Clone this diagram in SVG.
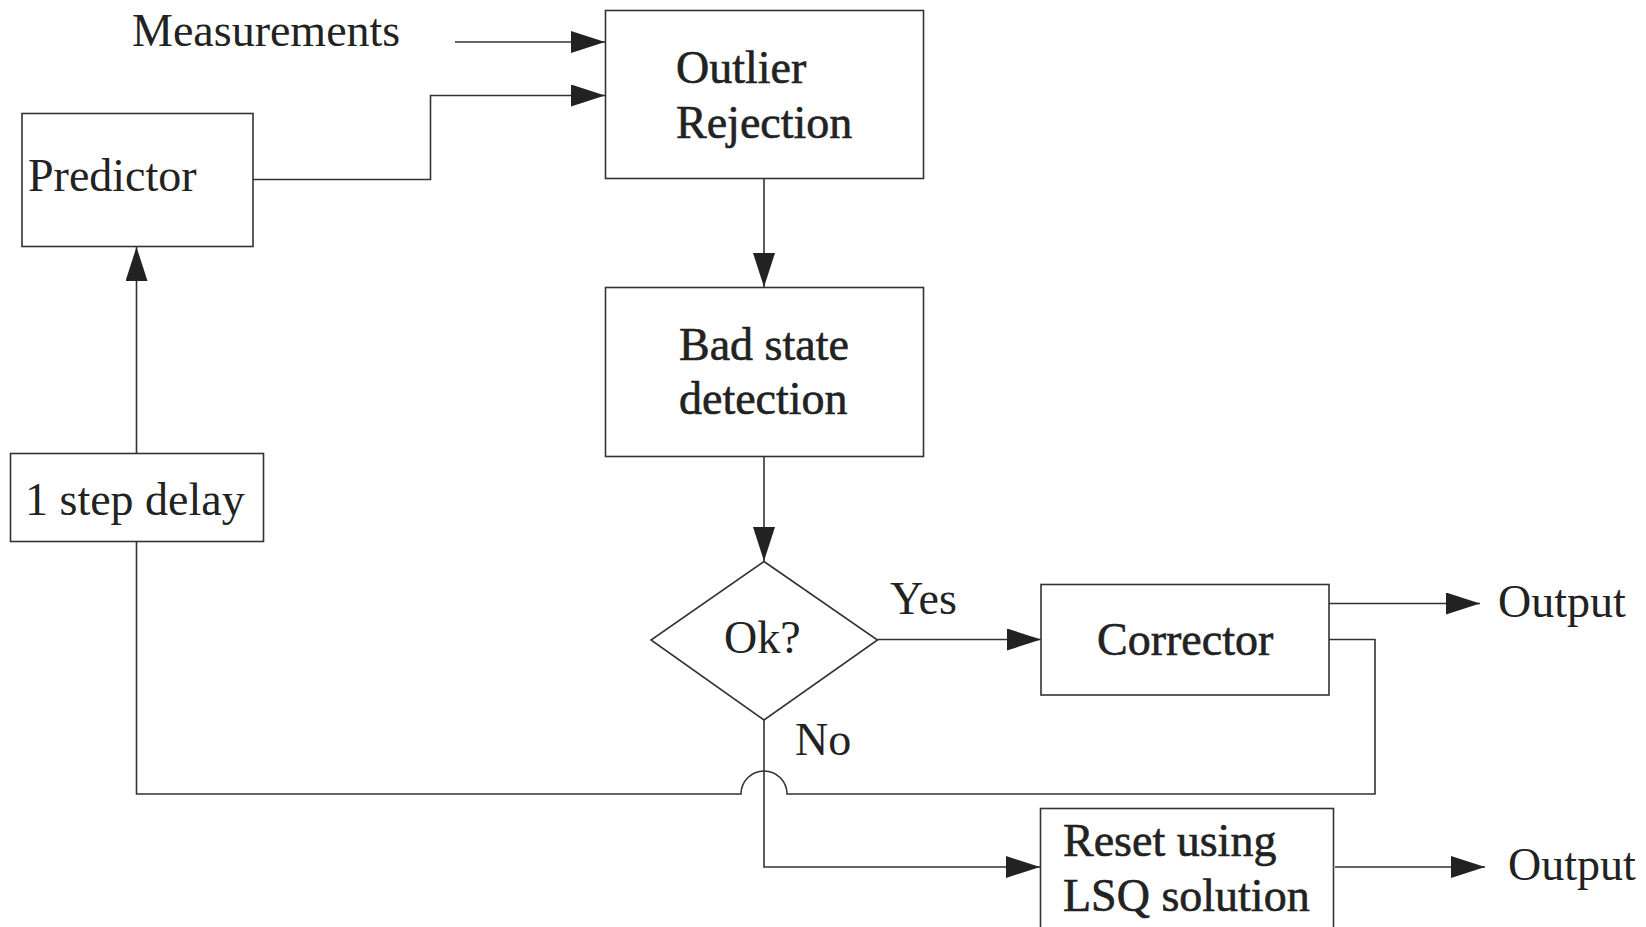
<svg xmlns="http://www.w3.org/2000/svg" width="1646" height="927" viewBox="0 0 1646 927">
<style>
.box{fill:#fff;stroke:#333;stroke-width:1.6}
.ln{fill:none;stroke:#333;stroke-width:1.6}
.t{font-family:"Liberation Serif","Times New Roman",serif;font-size:46px;fill:#222}
.b{stroke:#222;stroke-width:0.6}
</style>
<defs>
<marker id="ah" markerUnits="userSpaceOnUse" markerWidth="34" markerHeight="22" refX="34" refY="11" orient="auto">
<path d="M0,0 L34,11 L0,22 z" fill="#222"/>
</marker>
</defs>
<rect width="1646" height="927" fill="#fff"/>
<g id="connectors">
<path class="ln" d="M455,42 H605" marker-end="url(#ah)"/>
<path class="ln" d="M253,179.5 H430.5 V95.5 H605" marker-end="url(#ah)"/>
<path class="ln" d="M764,178.5 V287" marker-end="url(#ah)"/>
<path class="ln" d="M764,456.5 V561" marker-end="url(#ah)"/>
<path class="ln" d="M877.5,639.5 H1041" marker-end="url(#ah)"/>
<path class="ln" d="M1329,603.5 H1480" marker-end="url(#ah)"/>
<path class="ln" d="M1329,639.5 H1375 V794 H787 A23,23 0 0 0 741,794 H136.5 V541.5"/>
<path class="ln" d="M136.5,453.5 V247" marker-end="url(#ah)"/>
<path class="ln" d="M764,720 V867 H1040" marker-end="url(#ah)"/>
<path class="ln" d="M1335,867 H1485" marker-end="url(#ah)"/>
</g>
<g id="measurements"><text class="t" x="132" y="46">Measurements</text></g>
<g id="outlier">
<rect class="box" x="605.5" y="10.5" width="318" height="168"/>
<text class="t b" x="676" y="83">Outlier</text>
<text class="t b" x="676" y="138">Rejection</text>
</g>
<g id="predictor">
<rect class="box" x="22" y="113.5" width="231" height="133"/>
<text class="t" x="28" y="191">Predictor</text>
</g>
<g id="badstate">
<rect class="box" x="605.5" y="287.5" width="318" height="169"/>
<text class="t b" x="679" y="360">Bad state</text>
<text class="t b" x="679" y="414">detection</text>
</g>
<g id="delay">
<rect class="box" x="10.5" y="453.5" width="253" height="88"/>
<text class="t" x="25" y="515">1 step delay</text>
</g>
<g id="ok">
<polygon class="box" points="764,561.5 877.5,640 764,720 651,640"/>
<text class="t" x="724" y="653">Ok?</text>
</g>
<g id="yes"><text class="t" x="890" y="614">Yes</text></g>
<g id="no"><text class="t" x="795" y="755">No</text></g>
<g id="corrector">
<rect class="box" x="1041" y="584.5" width="288" height="110.5"/>
<text class="t b" x="1097" y="655">Corrector</text>
</g>
<g id="output1"><text class="t" x="1498" y="617">Output</text></g>
<g id="reset">
<rect class="box" x="1040.5" y="808.5" width="293" height="140"/>
<text class="t b" x="1063" y="856">Reset using</text>
<text class="t b" x="1063" y="911">LSQ solution</text>
</g>
<g id="output2"><text class="t" x="1508" y="880">Output</text></g>
</svg>
